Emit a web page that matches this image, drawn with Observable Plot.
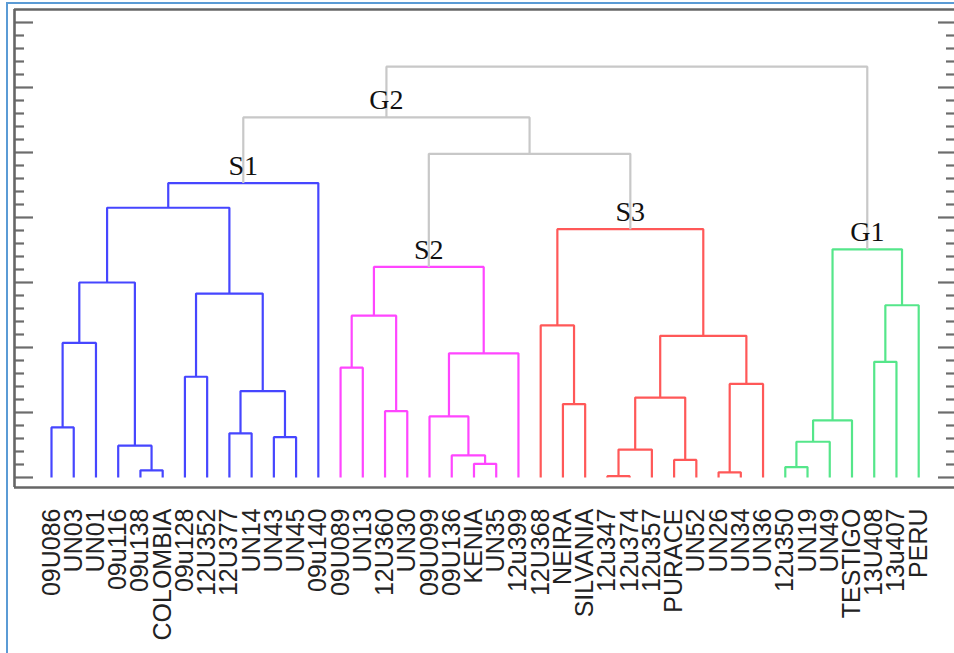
<!DOCTYPE html>
<html><head><meta charset="utf-8">
<script src="https://cdn.jsdelivr.net/npm/d3@7"></script>
<script src="https://cdn.jsdelivr.net/npm/@observablehq/plot@0.6"></script>
<style>
html,body{margin:0;padding:0;background:#fff;overflow:hidden;}
#wrap{position:relative;width:954px;height:653px;overflow:hidden;}
#border{position:absolute;left:6px;top:2px;width:960px;height:660px;border-left:2px solid #5b9bd5;border-top:2px solid #5b9bd5;pointer-events:none;}
</style></head><body><div id="wrap"><div id="chart"></div><div id="border"></div></div>
<script>
// Leaf labels, left to right
const leaves = ["09U086","UN03","UN01","09u116","09u138","COLOMBIA","09u128","12U352","12U377","UN14","UN43","UN45","09u140",
  "09U089","UN13","12U360","UN30","09U099","09U136","KENIA","UN35","12u399",
  "12U368","NEIRA","SILVANIA","12u347","12u374","12u357","PURACE","UN52","UN26","UN34","UN36",
  "12u350","UN19","UN49","TESTIGO","13U408","13u407","PERU"];

// Merges: [node id, child A, child B, height]
const s1Merges = [["a1","09U086","UN03",0.77],["a2","a1","UN01",2.07],["a3","09u138","COLOMBIA",0.11],["a4","09u116","a3",0.49],
  ["a5","a2","a4",3.00],["a6","09u128","12U352",1.55],["a7","12U377","UN14",0.68],["a8","UN43","UN45",0.62],["a9","a7","a8",1.33],
  ["a10","a6","a9",2.83],["a11","a5","a10",4.15],["S1","a11","09u140",4.53]];
const s2Merges = [["b1","09U089","UN13",1.69],["b2","12U360","UN30",1.02],["b3","b1","b2",2.49],["b4","KENIA","UN35",0.21],
  ["b5","09U136","b4",0.34],["b6","09U099","b5",0.94],["b7","b6","12u399",1.91],["S2","b3","b7",3.24]];
const s3Merges = [["c1","NEIRA","SILVANIA",1.13],["c2","12U368","c1",2.34],["c3","12u347","12u374",0.02],["c4","c3","12u357",0.43],
  ["c5","PURACE","UN52",0.27],["c6","c4","c5",1.23],["c7","UN26","UN34",0.08],["c8","c7","UN36",1.44],["c9","c6","c8",2.18],["S3","c2","c9",3.82]];
const g1Merges = [["d1","12u350","UN19",0.16],["d2","d1","UN49",0.55],["d3","d2","TESTIGO",0.88],["d4","13U408","13u407",1.78],
  ["d5","d4","PERU",2.65],["G1","d3","d5",3.51]];
const topMerges = [["e1","S2","S3",4.98],["G2","S1","e1",5.54],["root","G2","G1",6.32]];

const groups = ["S1","S2","S3","G1","top"];
const groupColors = ["#4646ff","#ff46ff","#ff5858","#55e68a","#c8c8c8"];
const groupLabels = ["S1","S2","S3","G1","G2"];

// y-axis tick values (no labels)
const majorTicks = [0,1,2,3,4,5,6,7];
const minorTicks = d3.range(0, 7.001, 0.2).filter(v => Math.abs(v - Math.round(v)) > 1e-6);

// build dendrogram geometry
const pos = new Map();
leaves.forEach((l, i) => pos.set(l, {x: i, y: 0}));
const linkPts = [];
const mergeSets = [s1Merges, s2Merges, s3Merges, g1Merges, topMerges];
mergeSets.forEach((set, gi) => {
  for (const [id, A, B, h] of set) {
    const a = pos.get(A), b = pos.get(B);
    pos.set(id, {x: (a.x + b.x) / 2, y: h});
    const g = groups[gi];
    linkPts.push({id, g, x: a.x, y: a.y}, {id, g, x: a.x, y: h}, {id, g, x: b.x, y: h}, {id, g, x: b.x, y: b.y});
  }
});
const labelNodes = groupLabels.map(k => ({k, ...pos.get(k)}));

const W = 954, H = 653, mL = 14, mR = 0, mT = 9, mB = 166;
const xMin = -1.664, xMax = 40.61;
const yMin = -0.154, yMax = 7.2;
const ppu = (W - mL - mR) / (xMax - xMin);
const tickColor = "#6c6c6c";

const chart = Plot.plot({
  width: W, height: H,
  marginLeft: mL, marginRight: mR, marginTop: mT, marginBottom: mB,
  x: {domain: [xMin, xMax], axis: null},
  y: {domain: [yMin, yMax], axis: null},
  color: {domain: groups, range: groupColors},
  style: {background: "transparent"},
  marks: [
    Plot.ruleY(majorTicks, {x1: xMin, x2: xMin + 19 / ppu, stroke: tickColor, strokeWidth: 2.2}),
    Plot.ruleY(minorTicks, {x1: xMin, x2: xMin + 10 / ppu, stroke: tickColor, strokeWidth: 2.2}),
    Plot.ruleY(majorTicks, {x1: xMax - 16 / ppu, x2: xMax, stroke: tickColor, strokeWidth: 2.2}),
    Plot.ruleY(minorTicks, {x1: xMax - 8 / ppu, x2: xMax, stroke: tickColor, strokeWidth: 2.2}),
    Plot.line(linkPts, {x: "x", y: "y", z: "id", stroke: "g", strokeWidth: 2.2, strokeLinejoin: "miter", strokeLinecap: "butt"}),
    Plot.text(labelNodes, {x: "x", y: "y", text: "k", dy: -8, lineAnchor: "bottom", textAnchor: "middle",
      fontFamily: "Liberation Serif", fontSize: 28, fill: "#111"}),
    Plot.text(leaves, {x: (d, i) => i, text: d => d, frameAnchor: "bottom", rotate: -90, textAnchor: "end",
      lineAnchor: "middle", dy: 21, fontFamily: "Liberation Sans", fontSize: 25, fill: "#222"}),
    Plot.ruleX([xMin], {stroke: "#666", strokeWidth: 2.6}),
    Plot.ruleY([yMin, yMax], {stroke: "#666", strokeWidth: 2.6})
  ]
});
document.getElementById("chart").appendChild(chart);
</script>
</body></html>
